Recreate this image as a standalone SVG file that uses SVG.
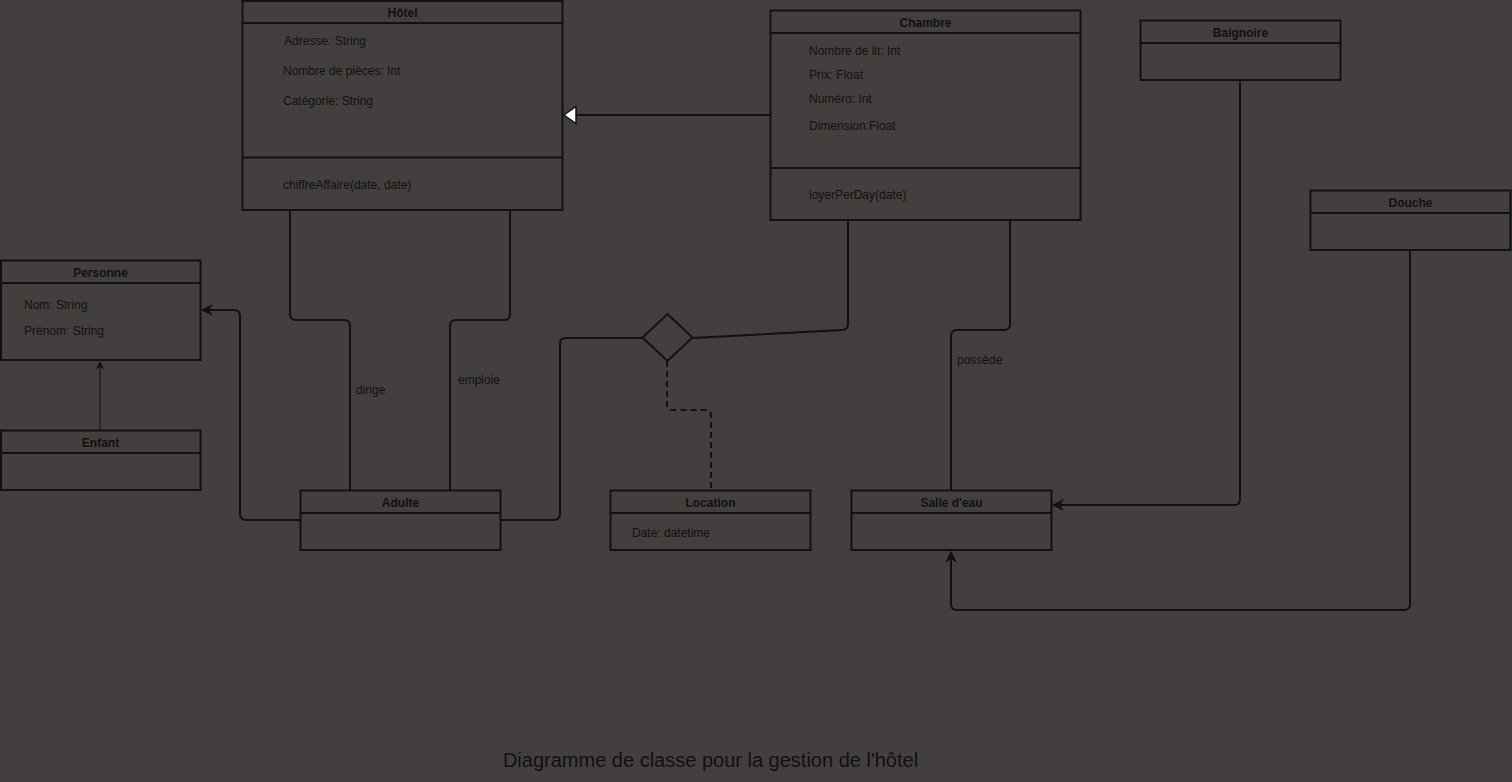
<svg xmlns="http://www.w3.org/2000/svg" width="1512" height="782" viewBox="0 0 1512 782">
<defs>
<style>
.box{fill:none;stroke:#111;stroke-width:2}
.ln{fill:none;stroke:#111;stroke-width:2}
.t{font-family:"Liberation Sans",Arial,sans-serif;font-size:12px;fill:#111}
.h{font-family:"Liberation Sans",Arial,sans-serif;font-size:12px;font-weight:bold;fill:#111;text-anchor:middle}
.title{font-family:"Liberation Sans",Arial,sans-serif;font-size:20px;fill:#111;text-anchor:middle}
</style>
<marker id="arr" viewBox="0 0 10 10" refX="9" refY="5" markerWidth="6" markerHeight="6" orient="auto" markerUnits="strokeWidth">
<path d="M0,0 L10,5 L0,10 L3,5 Z" fill="#111"/>
</marker>
<marker id="arrS" viewBox="0 0 10 10" refX="9" refY="5" markerWidth="8" markerHeight="8" orient="auto" markerUnits="strokeWidth">
<path d="M0,0 L10,5 L0,10 L3,5 Z" fill="#111"/>
</marker>
<marker id="tri" viewBox="0 0 14 20" refX="13" refY="10" markerWidth="7" markerHeight="10" orient="auto" markerUnits="strokeWidth">
<path d="M1,1.5 L13,10 L1,18.5 Z" fill="#fff" stroke="#111" stroke-width="1.5"/>
</marker>
</defs>
<rect x="0" y="0" width="1512" height="782" fill="#433f3e"/>

<g id="connectors">
<path class="ln" d="M770,115 L564,115" marker-end="url(#tri)"/>
<path class="ln" d="M290,210 L290,314 Q290,320 296,320 L344,320 Q350,320 350,326 L350,490"/>
<path class="ln" d="M510,210 L510,314 Q510,320 504,320 L456,320 Q450,320 450,326 L450,490"/>
<path class="ln" d="M300,520 L246,520 Q240,520 240,514 L240,316 Q240,310 234,310 L202,310" marker-end="url(#arr)"/>
<path class="ln" d="M100,430 L100,362" style="stroke-width:1" marker-end="url(#arrS)"/>
<path class="ln" d="M500,520 L554,520 Q560,520 560,514 L560,344 Q560,338 566,338 L643,338"/>
<path class="ln" d="M692,338 L842,330 Q848,330 848,324 L848,220"/>
<path class="ln" d="M667,361 L667,404 Q667,410 673,410 L705,410 Q711,410 711,416 L711,490" stroke-dasharray="6,4"/>
<path class="ln" d="M1010,220 L1010,324 Q1010,330 1004,330 L957,330 Q951,330 951,336 L951,490"/>
<path class="ln" d="M1240,80 L1240,499 Q1240,505 1234,505 L1053,505" marker-end="url(#arr)"/>
<path class="ln" d="M1410,250 L1410,604 Q1410,610 1404,610 L957,610 Q951,610 951,604 L951,552" marker-end="url(#arr)"/>
<polygon class="ln" points="667.5,314 692.5,337.5 667.5,361 642.5,337.5"/>
<text class="t" x="356" y="394">dirige</text>
<text class="t" x="458" y="384">emploie</text>
<text class="t" x="957" y="364">possède</text>
</g>

<g id="hotel">
<rect class="box" x="242.5" y="1" width="320" height="209"/>
<line class="ln" x1="242.5" y1="23" x2="562.5" y2="23"/>
<line class="ln" x1="242.5" y1="157.5" x2="562.5" y2="157.5"/>
<text class="h" x="402.5" y="17">Hôtel</text>
<text class="t" x="284" y="45">Adresse: String</text>
<text class="t" x="283" y="75">Nombre de pièces: Int</text>
<text class="t" x="283" y="105">Catégorie: String</text>
<text class="t" x="283" y="189">chiffreAffaire(date, date)</text>
</g>

<g id="chambre">
<rect class="box" x="770.5" y="10.5" width="310" height="209.5"/>
<line class="ln" x1="770.5" y1="33" x2="1080.5" y2="33"/>
<line class="ln" x1="770.5" y1="168" x2="1080.5" y2="168"/>
<text class="h" x="925.5" y="27">Chambre</text>
<text class="t" x="809" y="55">Nombre de lit: Int</text>
<text class="t" x="809" y="79">Prix: Float</text>
<text class="t" x="809" y="103">Numéro: Int</text>
<text class="t" x="809" y="130">Dimension:Float</text>
<text class="t" x="809" y="199">loyerPerDay(date)</text>
</g>

<g id="baignoire">
<rect class="box" x="1140.5" y="20.5" width="200" height="59.5"/>
<line class="ln" x1="1140.5" y1="43" x2="1340.5" y2="43"/>
<text class="h" x="1240.5" y="37">Baignoire</text>
</g>

<g id="douche">
<rect class="box" x="1310.5" y="190.5" width="200" height="59.5"/>
<line class="ln" x1="1310.5" y1="213" x2="1510.5" y2="213"/>
<text class="h" x="1410.5" y="207">Douche</text>
</g>

<g id="personne">
<rect class="box" x="1" y="260.5" width="199.5" height="99.5"/>
<line class="ln" x1="1" y1="283" x2="200.5" y2="283"/>
<text class="h" x="100.5" y="277">Personne</text>
<text class="t" x="24" y="309">Nom: String</text>
<text class="t" x="24" y="335">Prénom: String</text>
</g>

<g id="enfant">
<rect class="box" x="1" y="430.5" width="199.5" height="59.5"/>
<line class="ln" x1="1" y1="453" x2="200.5" y2="453"/>
<text class="h" x="100.5" y="447">Enfant</text>
</g>

<g id="adulte">
<rect class="box" x="300.5" y="490.5" width="200" height="59.5"/>
<line class="ln" x1="300.5" y1="513" x2="500.5" y2="513"/>
<text class="h" x="400.5" y="507">Adulte</text>
</g>

<g id="location">
<rect class="box" x="610.5" y="490.5" width="200" height="59.5"/>
<line class="ln" x1="610.5" y1="513" x2="810.5" y2="513"/>
<text class="h" x="710.5" y="507">Location</text>
<text class="t" x="632" y="537">Date: datetime</text>
</g>

<g id="salle">
<rect class="box" x="851.5" y="490.5" width="200" height="59.5"/>
<line class="ln" x1="851.5" y1="513" x2="1051.5" y2="513"/>
<text class="h" x="951.5" y="507">Salle d'eau</text>
</g>

<text class="title" x="710.5" y="767">Diagramme de classe pour la gestion de l'hôtel</text>
</svg>
